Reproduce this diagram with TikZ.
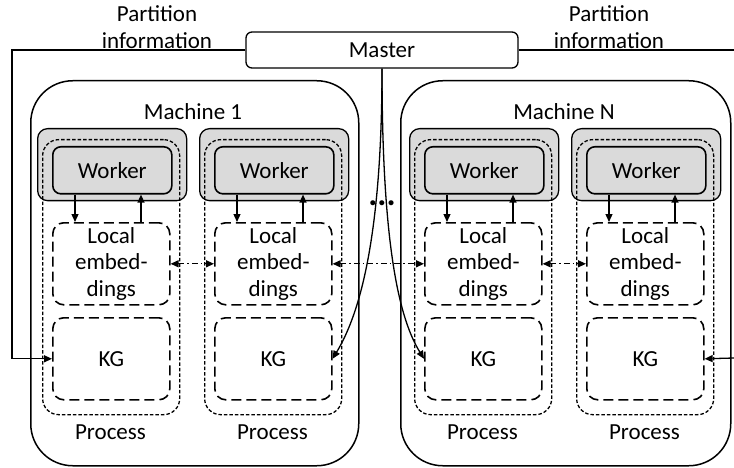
\documentclass[tikz,border=0pt]{standalone}
\usepackage{fontspec}
\setmainfont{Carlito}
\usetikzlibrary{arrows.meta,calc}
\definecolor{workergray}{HTML}{DADADA}
\begin{document}
\begin{tikzpicture}[x=1pt,y=-1pt,
  font=\fontsize{23}{26.5}\selectfont,
  line width=1.3pt,
  machine/.style={draw, line width=1.5pt, rounded corners=42pt, anchor=north west,
    inner sep=0pt, minimum height=385pt},
  graybox/.style={draw, fill=workergray, rounded corners=10pt, anchor=north west,
    inner sep=0pt, minimum width=149pt, minimum height=72pt},
  procbox/.style={draw, dash pattern=on 3.5pt off 2pt, rounded corners=16pt, anchor=north west,
    inner sep=0pt, minimum width=137pt, minimum height=275pt},
  workerbox/.style={draw, fill=workergray, line width=1.6pt, rounded corners=8pt, anchor=north west,
    inner sep=0pt, minimum width=119pt, minimum height=47pt},
  storebox/.style={draw, line width=1.6pt, dash pattern=on 10pt off 5pt, rounded corners=11pt,
    anchor=north west, inner sep=0pt, minimum width=117pt, minimum height=82pt, align=center},
  tip/.style={-{Triangle[length=8pt,width=7pt]}},
  exchange/.style={{Triangle[length=8pt,width=7pt]}-{Triangle[length=8pt,width=7pt]},
    dash pattern=on 6pt off 3pt on 1.5pt off 3pt},
  plain/.style={inner sep=0pt, align=center}
]
\useasboundingbox (0,0) rectangle (734,468);

% machines
\node[machine, minimum width=328pt] (m1) at (30,80) {};
\node[machine, minimum width=330pt] (mN) at (400,80) {};
\node[plain] (m1label) at (193,112) {Machine 1};
\node[plain] (mNlabel) at (564,112) {Machine N};

% processes: gray worker frame, process boundary, worker, embeddings, graph
\foreach \i/\gx in {1/37, 2/199, 3/409, 4/571} {
  \node[graybox] (g\i) at (\gx,128) {};
  \node[procbox] (p\i) at (\gx+5,139) {};
  \node[workerbox] (w\i) at (\gx+15,146) {Worker};
  \node[storebox] (l\i) at (\gx+15,222) {Local\\embed-\\dings};
  \node[storebox] (k\i) at (\gx+15,317) {KG};
  \node[plain] (pt\i) at (\gx+73.5,432) {Process};
  \draw[tip] ($(w\i.south west)+(23,0)$) -- ($(l\i.north west)+(23,0)$);
  \draw[tip] ($(l\i.north west)+(89,0)$) -- ($(w\i.south west)+(89,0)$);
}

% exchange of embeddings between processes
\draw[exchange] (l1.east) -- (l2.west);
\draw[exchange] (l2.east) -- (l3.west);
\draw[exchange] (l3.east) -- (l4.west);

% master and partition information
\node[draw, fill=white, rounded corners=6pt, inner sep=0pt,
  minimum width=272pt, minimum height=36pt] (master) at (382,50) {Master};
\node[plain] (pinfoL) at (157,27) {Partition\\information};
\node[plain] (pinfoR) at (609,27) {Partition\\information};

\coordinate (lcorner) at (12,50);
\coordinate (redgeTop) at (734,50);
\coordinate (redgeBot) at (734,358);
\draw[tip] (master.west) -- (lcorner) |- (k1.west);
\draw (master.east) -- (redgeTop);
\draw[tip] (redgeBot) -- (k4.east);
\draw[tip] (master.south) .. controls (382,250) and (356,320) .. (k2.east);
\draw[tip] (master.south) .. controls (382,250) and (400,320) .. (k3.west);

% ellipsis between machines
\node[inner sep=0pt, anchor=base] (dots) at (382,205) {\fontsize{34}{34}\selectfont\bfseries ...};
\end{tikzpicture}
\end{document}
